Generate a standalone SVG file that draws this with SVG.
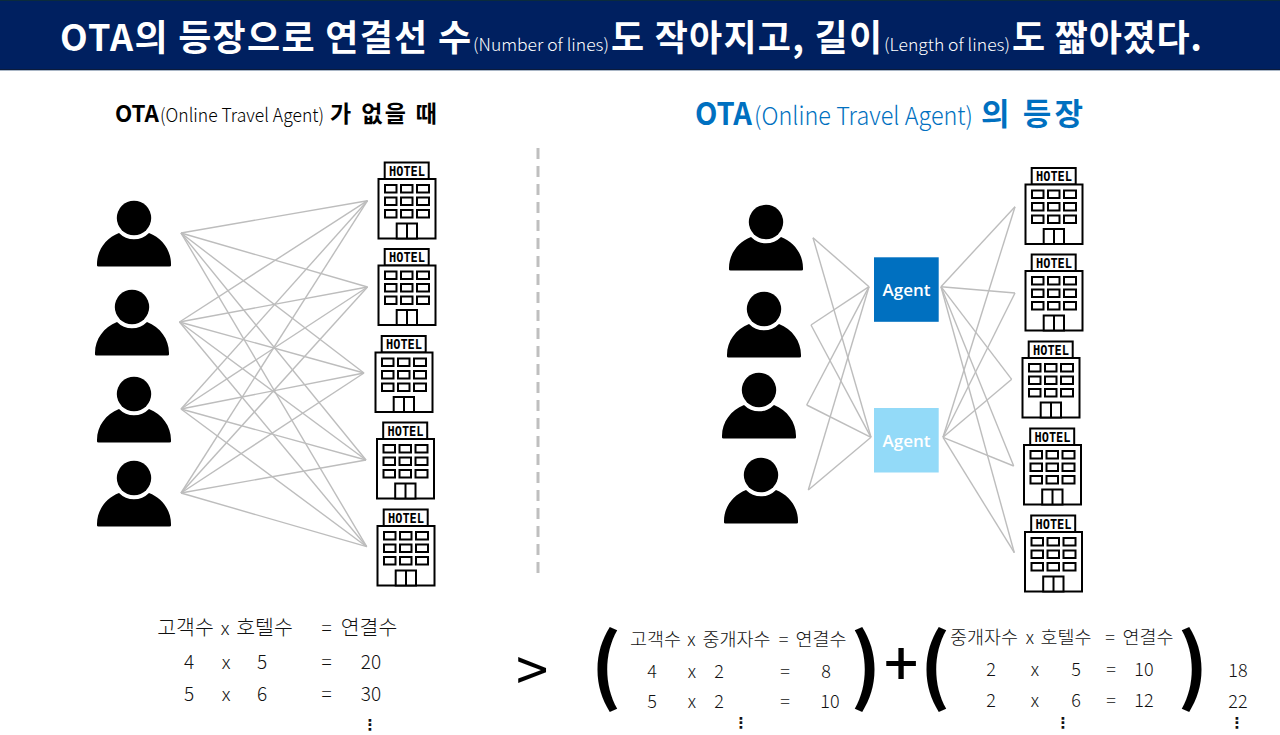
<svg xmlns="http://www.w3.org/2000/svg" width="1280" height="735" viewBox="0 0 1280 735">
<style>
text{font-family:"Noto Sans CJK KR","Noto Sans",sans-serif}
.b{font-weight:700}
.l{font-weight:300}
.ti{fill:#fff;font-size:36px;font-weight:700}
.tl{fill:#fff;font-size:17px;font-weight:300}
.c{stroke:#bdbdbd;stroke-width:1.4;fill:none}
.st{fill:#fff;stroke:#000;stroke-width:2}
.ht{font-family:"DejaVu Sans Mono",monospace;font-weight:700;font-size:13.5px;fill:#000}
.f{font-size:19px;fill:#111;font-weight:300;text-anchor:middle}
.fh{font-size:20.5px}
.g{font-size:18px;fill:#111;font-weight:300;text-anchor:middle}
.gh{font-size:18.5px}
.d{font-family:"DejaVu Sans",sans-serif;font-size:15px;font-weight:700;fill:#111;text-anchor:middle}
.p{font-size:82px;font-weight:700;fill:#000;text-anchor:middle}
.ag{font-family:"Open Sans",sans-serif;font-weight:600;font-size:17px;fill:#fff;text-anchor:middle}
</style>
<defs>
<g id="person-shape"><circle cx="0" cy="0" r="17.2"/><path d="M-37 47.5V46C-37 32 -28 20 -15 15A21 21 0 0 0 15 15C28 20 37 32 37 46V47.5Q37 48.5 35.500 48.500H-35.500Q-37 48.500 -37 47.500Z"/></g>
<g id="hotel-shape" class="st"><rect x="6.700" y="1" width="44" height="16.500"/><rect x="0.500" y="17.500" width="57" height="59.500"/><rect x="7" y="23.500" width="11.500" height="7.500"/><rect x="23" y="23.500" width="11.500" height="7.500"/><rect x="39" y="23.500" width="12" height="7.500"/><rect x="7" y="36" width="11.500" height="7.500"/><rect x="23" y="36" width="11.500" height="7.500"/><rect x="39" y="36" width="12" height="7.500"/><rect x="7" y="48.500" width="11.500" height="7.500"/><rect x="23" y="48.500" width="11.500" height="7.500"/><rect x="39" y="48.500" width="12" height="7.500"/><rect x="18.700" y="62" width="20.300" height="15"/><path d="M29 62V77"/></g>
</defs>
<rect width="1280" height="735" fill="#fff"/>
<g id="header">
<rect x="0" y="0" width="1280" height="70" fill="#002060"/>
<rect x="0" y="0" width="1280" height="1" fill="#0b2b3c"/>
<rect x="0" y="69" width="1280" height="1" fill="#0b1b3c"/>
<rect x="0" y="70" width="1280" height="1" fill="#a9b6c6"/>
<text class="ti" x="60" y="51" textLength="411">OTA의 등장으로 연결선 수</text>
<text class="tl" x="473" y="51" textLength="136" lengthAdjust="spacingAndGlyphs">(Number of lines)</text>
<text class="ti" x="611" y="51" textLength="271">도 작아지고, 길이</text>
<text class="tl" x="884" y="51" textLength="126" lengthAdjust="spacingAndGlyphs">(Length of lines)</text>
<text class="ti" x="1012" y="51" textLength="190">도 짧아졌다.</text>
</g>
<g id="heading-left" fill="#000">
<text class="b" x="115" y="122" font-size="23" textLength="44" lengthAdjust="spacingAndGlyphs">OTA</text>
<text class="l" x="160" y="122" font-size="19" textLength="164" lengthAdjust="spacingAndGlyphs">(Online Travel Agent)</text>
<text class="b" x="330" y="122" font-size="23" textLength="107">가 없을 때</text>
</g>
<g id="heading-right" fill="#0070c0">
<text class="b" x="695" y="125" font-size="31" textLength="57" lengthAdjust="spacingAndGlyphs">OTA</text>
<text class="l" x="754" y="125" font-size="25" textLength="219" lengthAdjust="spacingAndGlyphs">(Online Travel Agent)</text>
<text class="b" x="981" y="125" font-size="31" textLength="102">의 등장</text>
</g>
<path id="divider" d="M538 148V578" stroke="#bfbfbf" stroke-width="3" stroke-dasharray="11 7" fill="none"/>
<g id="connectors-left" class="c">
<line x1="181" y1="233" x2="367.500" y2="200.700"/><line x1="181" y1="233" x2="367.500" y2="287"/><line x1="181" y1="233" x2="364" y2="373"/><line x1="181" y1="233" x2="366" y2="460"/><line x1="181" y1="233" x2="366.700" y2="546.700"/>
<line x1="179.500" y1="322" x2="367.500" y2="200.700"/><line x1="179.500" y1="322" x2="367.500" y2="287"/><line x1="179.500" y1="322" x2="364" y2="373"/><line x1="179.500" y1="322" x2="366" y2="460"/><line x1="179.500" y1="322" x2="366.700" y2="546.700"/>
<line x1="181" y1="409" x2="367.500" y2="200.700"/><line x1="181" y1="409" x2="367.500" y2="287"/><line x1="181" y1="409" x2="364" y2="373"/><line x1="181" y1="409" x2="366" y2="460"/><line x1="181" y1="409" x2="366.700" y2="546.700"/>
<line x1="181" y1="493" x2="367.500" y2="200.700"/><line x1="181" y1="493" x2="367.500" y2="287"/><line x1="181" y1="493" x2="364" y2="373"/><line x1="181" y1="493" x2="366" y2="460"/><line x1="181" y1="493" x2="366.700" y2="546.700"/>
</g>
<g id="connectors-right" class="c">
<line x1="813" y1="237.700" x2="869" y2="286.700"/><line x1="811" y1="325" x2="869" y2="286.700"/><line x1="806.700" y1="405" x2="869" y2="286.700"/><line x1="808.300" y1="490" x2="869" y2="286.700"/>
<line x1="813" y1="237.700" x2="871" y2="437.300"/><line x1="811" y1="325" x2="871" y2="437.300"/><line x1="806.700" y1="405" x2="871" y2="437.300"/><line x1="808.300" y1="490" x2="871" y2="437.300"/>
<line x1="941" y1="286.700" x2="1015" y2="206.700"/><line x1="941" y1="286.700" x2="1015" y2="293"/><line x1="941" y1="286.700" x2="1011.700" y2="379.300"/><line x1="941" y1="286.700" x2="1013.700" y2="466"/><line x1="941" y1="286.700" x2="1014.300" y2="552.700"/>
<line x1="943" y1="437.300" x2="1015" y2="206.700"/><line x1="943" y1="437.300" x2="1015" y2="293"/><line x1="943" y1="437.300" x2="1011.700" y2="379.300"/><line x1="943" y1="437.300" x2="1013.700" y2="466"/><line x1="943" y1="437.300" x2="1014.300" y2="552.700"/>
</g>
<g id="person-l1" transform="translate(134 218)"><use href="#person-shape"/></g>
<g id="person-l2" transform="translate(132 307)"><use href="#person-shape"/></g>
<g id="person-l3" transform="translate(134 394)"><use href="#person-shape"/></g>
<g id="person-l4" transform="translate(134 478)"><use href="#person-shape"/></g>
<g id="person-r1" transform="translate(766 222)"><use href="#person-shape"/></g>
<g id="person-r2" transform="translate(764 309)"><use href="#person-shape"/></g>
<g id="person-r3" transform="translate(759 390)"><use href="#person-shape"/></g>
<g id="person-r4" transform="translate(761 475)"><use href="#person-shape"/></g>
<g id="hotel-l1" transform="translate(378 161.500)"><use href="#hotel-shape"/><text class="ht" x="11" y="14" textLength="36" lengthAdjust="spacingAndGlyphs">HOTEL</text></g>
<g id="hotel-l2" transform="translate(378 248)"><use href="#hotel-shape"/><text class="ht" x="11" y="14" textLength="36" lengthAdjust="spacingAndGlyphs">HOTEL</text></g>
<g id="hotel-l3" transform="translate(375 335)"><use href="#hotel-shape"/><text class="ht" x="11" y="14" textLength="36" lengthAdjust="spacingAndGlyphs">HOTEL</text></g>
<g id="hotel-l4" transform="translate(376.500 421.500)"><use href="#hotel-shape"/><text class="ht" x="11" y="14" textLength="36" lengthAdjust="spacingAndGlyphs">HOTEL</text></g>
<g id="hotel-l5" transform="translate(377 508.500)"><use href="#hotel-shape"/><text class="ht" x="11" y="14" textLength="36" lengthAdjust="spacingAndGlyphs">HOTEL</text></g>
<g id="hotel-r1" transform="translate(1025 167)"><use href="#hotel-shape"/><text class="ht" x="11" y="14" textLength="36" lengthAdjust="spacingAndGlyphs">HOTEL</text></g>
<g id="hotel-r2" transform="translate(1025 253.500)"><use href="#hotel-shape"/><text class="ht" x="11" y="14" textLength="36" lengthAdjust="spacingAndGlyphs">HOTEL</text></g>
<g id="hotel-r3" transform="translate(1022 340.500)"><use href="#hotel-shape"/><text class="ht" x="11" y="14" textLength="36" lengthAdjust="spacingAndGlyphs">HOTEL</text></g>
<g id="hotel-r4" transform="translate(1023.500 427.500)"><use href="#hotel-shape"/><text class="ht" x="11" y="14" textLength="36" lengthAdjust="spacingAndGlyphs">HOTEL</text></g>
<g id="hotel-r5" transform="translate(1024.500 514.500)"><use href="#hotel-shape"/><text class="ht" x="11" y="14" textLength="36" lengthAdjust="spacingAndGlyphs">HOTEL</text></g>
<g id="agent-1"><rect x="874" y="257.300" width="64.700" height="64.500" fill="#0070c0"/><text class="ag" x="906.500" y="296">Agent</text></g>
<g id="agent-2"><rect x="874" y="408" width="64.700" height="64.500" fill="#93daf8"/><text class="ag" x="906.500" y="446.500">Agent</text></g>
<g id="formula-left">
<text class="f fh" x="185.500" y="635">고객수</text><text class="f" x="225" y="635">x</text><text class="f fh" x="264.500" y="635">호텔수</text><text class="f" x="326.500" y="635">=</text><text class="f fh" x="369" y="635">연결수</text>
<text class="f" x="189" y="669">4</text><text class="f" x="226" y="669">x</text><text class="f" x="262" y="669">5</text><text class="f" x="326.500" y="669">=</text><text class="f" x="371" y="669">20</text>
<text class="f" x="189" y="701">5</text><text class="f" x="226" y="701">x</text><text class="f" x="262" y="701">6</text><text class="f" x="326.500" y="701">=</text><text class="f" x="371" y="701">30</text>
<text class="d" x="370" y="730">⋮</text>
</g>
<text id="gt" x="532" y="692" font-size="58" font-weight="400" fill="#000" text-anchor="middle">&gt;</text>
<g id="formula-right">
<text class="p" x="606" y="695">(</text><text class="p" x="866" y="695">)</text>
<text x="901" y="686" font-size="60" font-weight="500" fill="#000" text-anchor="middle">+</text>
<text class="p" x="935" y="695">(</text><text class="p" x="1193" y="695">)</text>
<text class="g gh" x="655.500" y="646">고객수</text><text class="g" x="691.500" y="646">x</text><text class="g gh" x="736.500" y="646">중개자수</text><text class="g" x="783.500" y="646">=</text><text class="g gh" x="821" y="646">연결수</text>
<text class="g" x="652" y="678">4</text><text class="g" x="692" y="678">x</text><text class="g" x="719" y="678">2</text><text class="g" x="785" y="678">=</text><text class="g" x="826" y="678">8</text>
<text class="g" x="652" y="708">5</text><text class="g" x="692" y="708">x</text><text class="g" x="719" y="708">2</text><text class="g" x="785" y="708">=</text><text class="g" x="830" y="708">10</text>
<text class="d" x="741" y="728">⋮</text>
<text class="g gh" x="984" y="644">중개자수</text><text class="g" x="1030" y="644">x</text><text class="g gh" x="1066" y="644">호텔수</text><text class="g" x="1110" y="644">=</text><text class="g gh" x="1148" y="644">연결수</text>
<text class="g" x="991" y="676">2</text><text class="g" x="1035" y="676">x</text><text class="g" x="1076" y="676">5</text><text class="g" x="1111" y="676">=</text><text class="g" x="1144" y="676">10</text>
<text class="g" x="991" y="707">2</text><text class="g" x="1035" y="707">x</text><text class="g" x="1076" y="707">6</text><text class="g" x="1111" y="707">=</text><text class="g" x="1144" y="707">12</text>
<text class="d" x="1063" y="728">⋮</text>
<text class="g" x="1238" y="677">18</text><text class="g" x="1238" y="708">22</text>
<text class="d" x="1237" y="728">⋮</text>
</g>
</svg>
